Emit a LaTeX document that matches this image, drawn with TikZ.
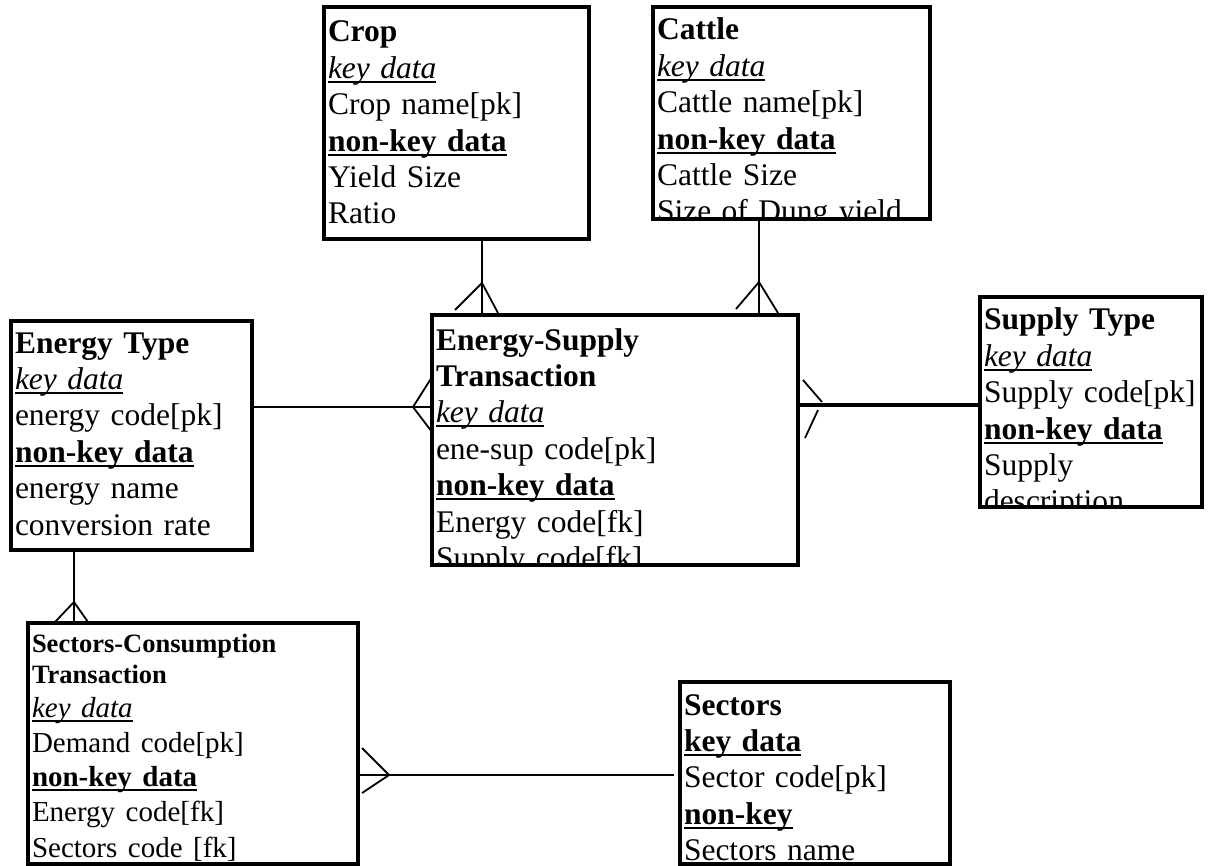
\documentclass[tikz,border=0pt]{standalone}
\usepackage{fontspec}
\setmainfont{Liberation Serif}
\usetikzlibrary{calc}
\newcommand\ulbar[1]{\leavevmode\setbox0=\hbox{#1}\rlap{\rule[-4.5pt]{\wd0}{2pt}}\box0}
\tikzset{
  ebox/.style={draw=black, line width=4pt, rectangle, inner sep=0pt, outer sep=0pt, anchor=north west},
  etext/.style={anchor=base west, inner sep=0pt, outer sep=0pt, text width=400pt, align=left,
    font=\fontsize{31.5}{36.4}\selectfont},
  conn/.style={draw=black, line width=1.8pt},
  thickconn/.style={draw=black, line width=3.5pt}
}
\begin{document}
\begin{tikzpicture}[x=1pt, y=-1pt]
\useasboundingbox (0,0) rectangle (1212,866);
\fill[white] (0,0) rectangle (1212,866);

% ---------- boxes ----------
\node[ebox, minimum width=265pt, minimum height=232pt] (crop) at (324,7) {};
\node[ebox, minimum width=277pt, minimum height=212pt] (cattle) at (653,7) {};
\node[ebox, minimum width=241pt, minimum height=229pt] (energytype) at (11,321) {};
\node[ebox, minimum width=366pt, minimum height=250pt] (enesup) at (432,315) {};
\node[ebox, minimum width=222pt, minimum height=210pt] (supplytype) at (980,297) {};
\node[ebox, minimum width=330pt, minimum height=241pt] (sectcons) at (28,623) {};
\node[ebox, minimum width=270pt, minimum height=182pt] (sectors) at (680,682) {};

% ---------- texts ----------
\begin{scope}
\clip ([shift={(2,2)}]crop.north west) rectangle ([shift={(-2,-2)}]crop.south east);
\node[etext] (croptext) at (328,42) {\textbf{Crop}\par
\ulbar{\textit{key data}}\par
Crop name[pk]\par
\ulbar{\textbf{non-key data}}\par
Yield Size\par
Ratio};
\end{scope}

\begin{scope}
\clip ([shift={(2,2)}]cattle.north west) rectangle ([shift={(-2,-2)}]cattle.south east);
\node[etext] (cattletext) at (657,40) {\textbf{Cattle}\par
\ulbar{\textit{key data}}\par
Cattle name[pk]\par
\ulbar{\textbf{non-key data}}\par
Cattle Size\par
Size of Dung yield};
\end{scope}

\begin{scope}
\clip ([shift={(2,2)}]energytype.north west) rectangle ([shift={(-2,-2)}]energytype.south east);
\node[etext] (energytypetext) at (15,353) {\textbf{Energy Type}\par
\ulbar{\textit{key data}}\par
energy code[pk]\par
\ulbar{\textbf{non-key data}}\par
energy name\par
conversion rate};
\end{scope}

\begin{scope}
\clip ([shift={(2,2)}]enesup.north west) rectangle ([shift={(-2,-2)}]enesup.south east);
\node[etext] (enesuptext) at (436,350) {\textbf{Energy-Supply}\par
\textbf{Transaction}\par
\ulbar{\textit{key data}}\par
ene-sup code[pk]\par
\ulbar{\textbf{non-key data}}\par
Energy code[fk]\par
Supply code[fk]};
\end{scope}

\begin{scope}
\clip ([shift={(2,2)}]supplytype.north west) rectangle ([shift={(-2,-2)}]supplytype.south east);
\node[etext] (supplytypetext) at (984,330) {\textbf{Supply Type}\par
\ulbar{\textit{key data}}\par
Supply code[pk]\par
\ulbar{\textbf{non-key data}}\par
Supply\par
description};
\end{scope}

\begin{scope}
\clip ([shift={(2,2)}]sectcons.north west) rectangle ([shift={(-2,-2)}]sectcons.south east);
\node[etext] (sectconstext) at (32,652) {\fontsize{26.5}{31}\selectfont\textbf{Sectors-Consumption}\par
\textbf{Transaction}\par
\fontsize{29}{34.6}\selectfont
\ulbar{\textit{key data}}\par
Demand code[pk]\par
\ulbar{\textbf{non-key data}}\par
Energy code[fk]\par
Sectors code [fk]};
\end{scope}

\begin{scope}
\clip ([shift={(2,2)}]sectors.north west) rectangle ([shift={(-2,-2)}]sectors.south east);
\node[etext] (sectorstext) at (684,715) {\textbf{Sectors}\par
\ulbar{\textbf{key data}}\par
Sector code[pk]\par
\ulbar{\textbf{non-key}}\par
Sectors name};
\end{scope}

% ---------- connector guide coordinates ----------
\coordinate (vA) at (482,0);
\coordinate (vB) at (759,0);
\coordinate (vC) at (74,0);
\coordinate (hA) at (0,407);
\coordinate (hB) at (0,405);
\coordinate (hC) at (0,775);

% Crop -- Energy-Supply
\draw[conn] (crop.south -| vA) -- (enesup.north -| vA);
\draw[conn] ($(enesup.north -| vA)+(-27,-5)$) -- ($(enesup.north -| vA)+(0,-32)$) -- ($(enesup.north -| vA)+(16,-2)$);

% Cattle -- Energy-Supply
\draw[conn] (cattle.south -| vB) -- (enesup.north -| vB);
\draw[conn] ($(enesup.north -| vB)+(-23,-6)$) -- ($(enesup.north -| vB)+(0,-33)$) -- ($(enesup.north -| vB)+(19,-2)$);

% Energy Type -- Energy-Supply
\draw[conn] (energytype.east |- hA) -- (enesup.west |- hA);
\draw[conn] ($(enesup.west |- hA)+(0,-30)$) -- ($(enesup.west |- hA)+(-19,0)$) -- ($(enesup.west |- hA)+(0,25)$);

% Energy-Supply -- Supply Type
\draw[thickconn] (enesup.east |- hB) -- (supplytype.west |- hB);
\draw[conn] ($(enesup.east |- hB)+(5,-25)$) -- ($(enesup.east |- hB)+(24,-3)$);
\draw[conn] ($(enesup.east |- hB)+(20,5)$) -- ($(enesup.east |- hB)+(7,33)$);

% Energy Type -- Sectors-Consumption
\draw[conn] (energytype.south -| vC) -- (sectcons.north -| vC);
\draw[conn] ($(sectcons.north -| vC)+(-19,-1)$) -- ($(sectcons.north -| vC)+(0,-21)$) -- ($(sectcons.north -| vC)+(14,-1)$);

% Sectors-Consumption -- Sectors
\draw[conn, shorten >=6pt] (sectcons.east |- hC) -- (sectors.west |- hC);
\draw[conn] ($(sectcons.east |- hC)+(4,-27)$) -- ($(sectcons.east |- hC)+(31,0)$) -- ($(sectcons.east |- hC)+(4,18)$);
\end{tikzpicture}
\end{document}
